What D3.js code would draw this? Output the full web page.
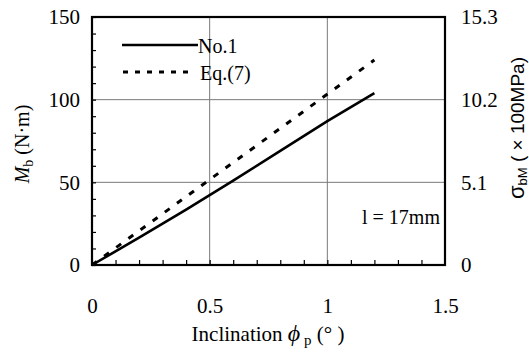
<!DOCTYPE html>
<html>
<head>
<meta charset="utf-8">
<script src="https://cdn.jsdelivr.net/npm/d3@7"></script>
<style>
  body { margin: 0; background: #fff; }
  svg { display: block; }
  text { font-family: "Liberation Serif", "Times New Roman", serif; fill: #000; }
</style>
</head>
<body>
<svg id="chart" width="529" height="352"></svg>
<script>
// data
const no1Phi = [0, 0.2, 0.4, 0.6, 0.8, 1.0, 1.2];
const no1Mb  = [0, 16.5, 33.5, 51, 69, 87, 104];
const eqPhi  = [0, 0.6, 1.2];
const eqMb   = [0, 62, 124];
const xTicks = [0, 0.5, 1, 1.5];
const yTicks = [0, 50, 100, 150];
const rTicks = [0, 5.1, 10.2, 15.3];

const svg = d3.select('#chart');
const pL = 92, pR = 445, pT = 17, pB = 265;
const serif = '"Liberation Serif", "Times New Roman", serif';

const x = d3.scaleLinear().domain([0, 1.5]).range([pL, pR]);
const y = d3.scaleLinear().domain([0, 150]).range([pB, pT]);
const yR = d3.scaleLinear().domain([0, 15.3]).range([pB, pT]);

// gridlines
svg.append('g')
  .selectAll('line')
  .data([0.5, 1])
  .enter().append('line')
  .attr('x1', d => x(d)).attr('x2', d => x(d))
  .attr('y1', pT).attr('y2', pB)
  .attr('stroke', '#7a7a7a').attr('stroke-width', 1);
svg.append('g')
  .selectAll('line')
  .data([50, 100])
  .enter().append('line')
  .attr('x1', pL).attr('x2', pR)
  .attr('y1', d => y(d)).attr('y2', d => y(d))
  .attr('stroke', '#7a7a7a').attr('stroke-width', 1);

// minor ticks (inward)
const minorY = d3.axisLeft(y).tickValues(d3.range(0, 151, 10)).tickSize(-4).tickFormat('');
svg.append('g').attr('transform', `translate(${pL},0)`).call(minorY)
  .call(g => g.select('.domain').remove())
  .selectAll('line').attr('stroke', '#000').attr('stroke-width', 1.2);

const minorX = d3.axisBottom(x).tickValues(d3.range(0, 15).map(i => i / 10)).tickSize(-5).tickFormat('');
svg.append('g').attr('transform', `translate(0,${pB})`).call(minorX)
  .call(g => g.select('.domain').remove())
  .selectAll('line').attr('stroke', '#000').attr('stroke-width', 1.2);

// tick labels
function styleAxis(g) {
  g.select('.domain').remove();
  g.attr('font-family', serif).attr('font-size', 21);
  g.selectAll('text').attr('fill', '#000');
}
svg.append('g').attr('transform', `translate(${pL},0)`)
  .call(d3.axisLeft(y).tickValues(yTicks).tickSize(0).tickPadding(12))
  .call(styleAxis);

svg.append('g').attr('transform', `translate(0,${pB})`)
  .call(d3.axisBottom(x).tickValues(xTicks).tickSize(0).tickPadding(33).tickFormat(d3.format('')))
  .call(styleAxis);

svg.append('g').attr('transform', `translate(${pR},0)`)
  .call(d3.axisRight(yR).tickValues(rTicks).tickSize(0).tickPadding(16).tickFormat(d => d === 0 ? '0' : d.toFixed(1)))
  .call(styleAxis);

// frame
svg.append('rect')
  .attr('x', pL).attr('y', pT)
  .attr('width', pR - pL).attr('height', pB - pT)
  .attr('fill', 'none').attr('stroke', '#000').attr('stroke-width', 2.2);

// series
const line = d3.line().x(d => x(d[0])).y(d => y(d[1]));
svg.append('path')
  .datum(eqPhi.map((p, i) => [p, eqMb[i]]))
  .attr('d', line)
  .attr('fill', 'none').attr('stroke', '#000').attr('stroke-width', 3)
  .attr('stroke-dasharray', '6,9');
svg.append('path')
  .datum(no1Phi.map((p, i) => [p, no1Mb[i]]))
  .attr('d', line)
  .attr('fill', 'none').attr('stroke', '#000').attr('stroke-width', 2.6);

// legend
svg.append('line').attr('x1', 122).attr('x2', 198).attr('y1', 45).attr('y2', 45)
  .attr('stroke', '#000').attr('stroke-width', 2.6);
svg.append('text').attr('x', 198).attr('y', 53).style('font-size', '20px').text('No.1');
svg.append('line').attr('x1', 123).attr('x2', 192).attr('y1', 72).attr('y2', 72)
  .attr('stroke', '#000').attr('stroke-width', 3).attr('stroke-dasharray', '5,7');
svg.append('text').attr('x', 200).attr('y', 80).style('font-size', '20px').text('Eq.(7)');

// annotation
svg.append('text').attr('x', 362).attr('y', 224).style('font-size', '20px').text('l = 17mm');

// axis titles
const xt = svg.append('text').attr('x', 268).attr('y', 341).attr('text-anchor', 'middle').style('font-size', '21px');
xt.append('tspan').text('Inclination ');
xt.append('tspan').style('font-style', 'italic').style('font-size', '24px').text('ϕ');
xt.append('tspan').attr('dy', 4).style('font-size', '15px').text(' p');
xt.append('tspan').attr('dy', -4).text(' (°  )');

const yt = svg.append('text')
  .attr('transform', 'translate(29,144) rotate(-90)')
  .attr('text-anchor', 'middle').style('font-size', '20px');
yt.append('tspan').style('font-style', 'italic').text('M');
yt.append('tspan').attr('dy', 4).style('font-size', '14px').text('b');
yt.append('tspan').attr('dy', -4).text(' (N·m)');

const rt = svg.append('text')
  .attr('transform', 'translate(524,128) rotate(-90)')
  .attr('text-anchor', 'middle')
  .style('font-family', '"Liberation Sans", Arial, sans-serif').style('font-size', '19px');
rt.append('tspan').style('font-size', '22px').text('σ');
rt.append('tspan').attr('dy', 3).style('font-size', '13px').text('bM');
rt.append('tspan').attr('dy', -3).text(' ( × 100MPa)');
</script>
</body>
</html>
